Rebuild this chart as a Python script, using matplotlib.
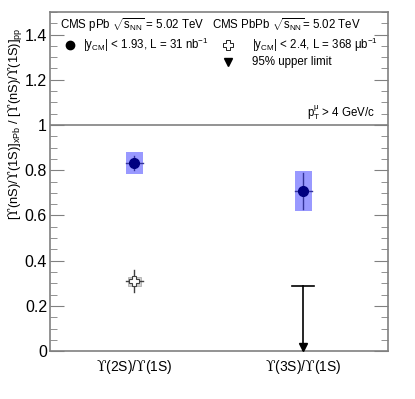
import matplotlib
matplotlib.use('Agg')
import matplotlib.pyplot as plt
from matplotlib.patches import Rectangle
from matplotlib.ticker import MultipleLocator

plt.rcParams['font.family'] = ['Liberation Sans', 'DejaVu Sans']
plt.rcParams['mathtext.fontset'] = 'custom'
plt.rcParams['mathtext.rm'] = 'Liberation Sans'
plt.rcParams['mathtext.it'] = 'Liberation Sans'
plt.rcParams['mathtext.cal'] = 'DejaVu Serif'

U = r'$\mathcal{ϒ}$'

# data
categories = [U + '(2S)/' + U + '(1S)', U + '(3S)/' + U + '(1S)']
ppb_val = [0.832, 0.708]
ppb_stat = [0.03, 0.08]
ppb_syst = [0.05, 0.09]
pbpb_val = 0.31          # 2S only
pbpb_stat = 0.05
pbpb_syst = 0.02
pbpb_limit = 0.288       # 3S upper limit

FG = '#000080'
GRAY = '#808080'

fig = plt.figure(figsize=(4.15, 3.99), dpi=100)
ax = fig.add_axes([0.12, 0.12, 0.815, 0.85])
ax.set_xlim(0.5, 2.5)
ax.set_ylim(0, 1.5)

xs = [1, 2]
hw = 0.052
for x, v, st, sy in zip(xs, ppb_val, ppb_stat, ppb_syst):
    ax.add_patch(Rectangle((x - hw, v - sy), 2 * hw, 2 * sy,
                           facecolor='#9999ff', edgecolor='none', zorder=2))
    ax.plot([x, x], [v - st, v + st], color='#333399', lw=1, zorder=3)
    ax.plot([x - hw, x + hw], [v, v], color='#333399', lw=1, zorder=3)
    ax.plot(x, v, marker='o', ms=7, color=FG, zorder=4)

# PbPb 2S
x = xs[0]
ax.add_patch(Rectangle((x - 0.04, pbpb_val - pbpb_syst), 0.08, 2 * pbpb_syst,
                       facecolor='#d0d0d0', edgecolor='#b0b0b0', lw=0.6, zorder=2))
ax.plot([x, x], [pbpb_val - pbpb_stat, pbpb_val + pbpb_stat], color='#404040', lw=1, zorder=3)
ax.plot([x - 0.05, x + 0.05], [pbpb_val, pbpb_val], color='#404040', lw=1, zorder=3)
ax.plot(x, pbpb_val, marker='P', ms=7, mfc='white', mec='#404040', mew=0.8, zorder=4)

# PbPb 3S upper limit
x = xs[1]
ax.plot([x, x], [0, pbpb_limit], color='black', lw=1.2, zorder=3)
ax.plot([x - 0.065, x + 0.065], [pbpb_limit, pbpb_limit], color='black', lw=1.2, zorder=3)
ax.plot(x, 0.018, marker='v', ms=6, color='black', zorder=4, clip_on=False)

ax.axhline(1.0, color=GRAY, lw=1.2, zorder=1)

# axes styling
for s in ax.spines.values():
    s.set_color(GRAY)
    s.set_linewidth(1.2)
ax.set_xticks(xs)
ax.set_xticklabels(categories, fontsize=10)
ax.tick_params(axis='x', length=0, pad=5)
ax.yaxis.set_minor_locator(MultipleLocator(0.05))
ax.set_yticks([0, 0.2, 0.4, 0.6, 0.8, 1.0, 1.2, 1.4])
ax.set_yticklabels(['0', '0.2', '0.4', '0.6', '0.8', '1', '1.2', '1.4'])
ax.tick_params(axis='y', which='major', direction='in', length=10, color=GRAY,
               labelsize=11.5, left=True, right=True, pad=2)
ax.tick_params(axis='y', which='minor', direction='in', length=5, color=GRAY,
               left=True, right=True)

ax.set_ylabel('[' + U + '(nS)/' + U + r'(1S)]$_{\rm xPb}$ / [' + U + '(nS)/' + U
              + r'(1S)]$_{\rm pp}$', fontsize=9.3)
ax.yaxis.set_label_coords(-0.072, 0.67)

# legend texts
fs = 8.3
ax.text(0.03, 0.962, r'CMS pPb $\sqrt{s_{\rm NN}}$ = 5.02 TeV', transform=ax.transAxes,
        fontsize=fs, va='center')
ax.plot(0.059, 0.903, marker='o', ms=6, color='black', transform=ax.transAxes)
ax.text(0.098, 0.903, r'|y$_{\rm CM}$| < 1.93, L = 31 nb$^{-1}$', transform=ax.transAxes,
        fontsize=fs, va='center')
ax.text(0.479, 0.962, r'CMS PbPb $\sqrt{s_{\rm NN}}$= 5.02 TeV', transform=ax.transAxes,
        fontsize=fs, va='center')
ax.plot(0.527, 0.903, marker='P', ms=7, mfc='white', mec='black', mew=0.6,
        transform=ax.transAxes)
ax.text(0.598, 0.903, r'|y$_{\rm CM}$| < 2.4, L = 368 $\mu$b$^{-1}$', transform=ax.transAxes,
        fontsize=fs, va='center')
ax.plot(0.527, 0.853, marker='v', ms=6, color='black', transform=ax.transAxes)
ax.text(0.598, 0.853, '95% upper limit', transform=ax.transAxes, fontsize=fs, va='center')
ax.text(0.961, 0.702, r'p$_{\rm T}^{\mu}$ > 4 GeV/c', transform=ax.transAxes,
        fontsize=fs, va='center', ha='right')

fig.savefig('out.png', dpi=100)
